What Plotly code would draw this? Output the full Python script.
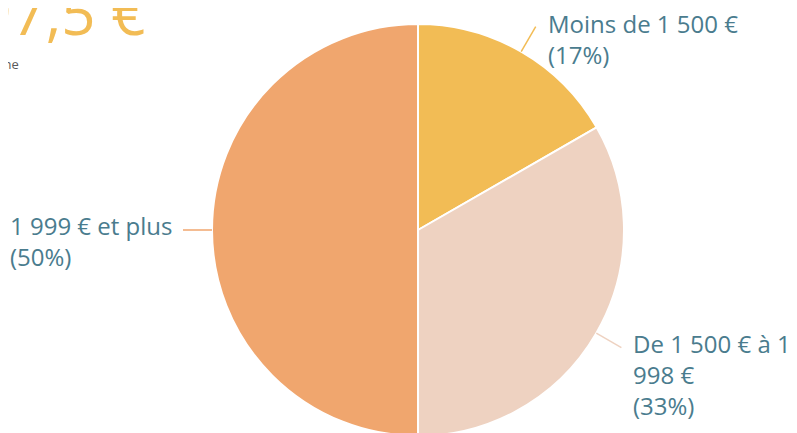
import math
import plotly.graph_objects as go

# données
categories = ["Moins de 1 500 €", "De 1 500 € à 1<br>998 €", "1 999 € et plus"]
values = [16.7, 33.3, 50.0]
pct_labels = ["17%", "33%", "50%"]
colors = ["#F2BC55", "#EED2C1", "#F0A66E"]
headline = "1 997,5 €"
subline = "Médiane"

W, H = 797, 433
# la page ajoute 8 px de marge : coordonnées exprimées dans la figure
CX, CY, R = 410, 222, 206      # centre et rayon du camembert (px)
LEADER = 29                     # longueur des traits de rappel
TEXT_COLOR = "#4A7C8E"
FONT = "Open Sans"
# décalage du texte par rapport au bout du trait (x, y, côté)
LABEL_SHIFT = [(10, -12, "right_of"), (10, -27, "right_of"), (-9, -11, "left_of")]

fig = go.Figure(go.Pie(
    labels=categories,
    values=values,
    sort=False,
    direction="clockwise",
    rotation=0,
    marker=dict(colors=colors, line=dict(color="white", width=2)),
    textinfo="none",
    hoverinfo="label+percent",
    showlegend=False,
    domain=dict(x=[(CX - R) / W, (CX + R) / W], y=[1 - (CY + R) / H, 1 - (CY - R) / H]),
))

total = sum(values)
cum = 0
shapes = []
annotations = []
for i, v in enumerate(values):
    mid = (cum + v / 2) / total * 2 * math.pi
    cum += v
    sx, sy = math.sin(mid), math.cos(mid)
    x0, y0 = CX + R * sx, CY - R * sy
    x1, y1 = CX + (R + LEADER) * sx, CY - (R + LEADER) * sy
    shapes.append(dict(type="line", xref="paper", yref="paper",
                       x0=x0 / W, y0=1 - y0 / H, x1=x1 / W, y1=1 - y1 / H,
                       line=dict(color=colors[i], width=1.5)))
    dx, dy, side = LABEL_SHIFT[i]
    annotations.append(dict(
        text=f"{categories[i]}<br>({pct_labels[i]})",
        xref="paper", yref="paper", x=x1 / W, y=1 - y1 / H,
        xanchor="left" if side == "right_of" else "right",
        yanchor="middle", align="left",
        xshift=dx, yshift=dy, showarrow=False,
        font=dict(family=FONT, size=24, color=TEXT_COLOR),
    ))

# titre coupé en haut à gauche
annotations.append(dict(text=headline, xref="paper", yref="paper",
                        x=140 / W, y=1 - 4 / H, xanchor="right", yanchor="middle",
                        showarrow=False,
                        font=dict(family=FONT, size=60, color="#F2BC55")))
annotations.append(dict(text=subline, xref="paper", yref="paper",
                        x=13 / W, y=1 - 56 / H, xanchor="right", yanchor="middle",
                        showarrow=False,
                        font=dict(family=FONT, size=13, color="#595959")))

fig.update_layout(
    width=W, height=H,
    margin=dict(l=0, r=0, t=0, b=0),
    paper_bgcolor="white",
    plot_bgcolor="white",
    shapes=shapes,
    annotations=annotations,
)

fig.write_html("out.html")
